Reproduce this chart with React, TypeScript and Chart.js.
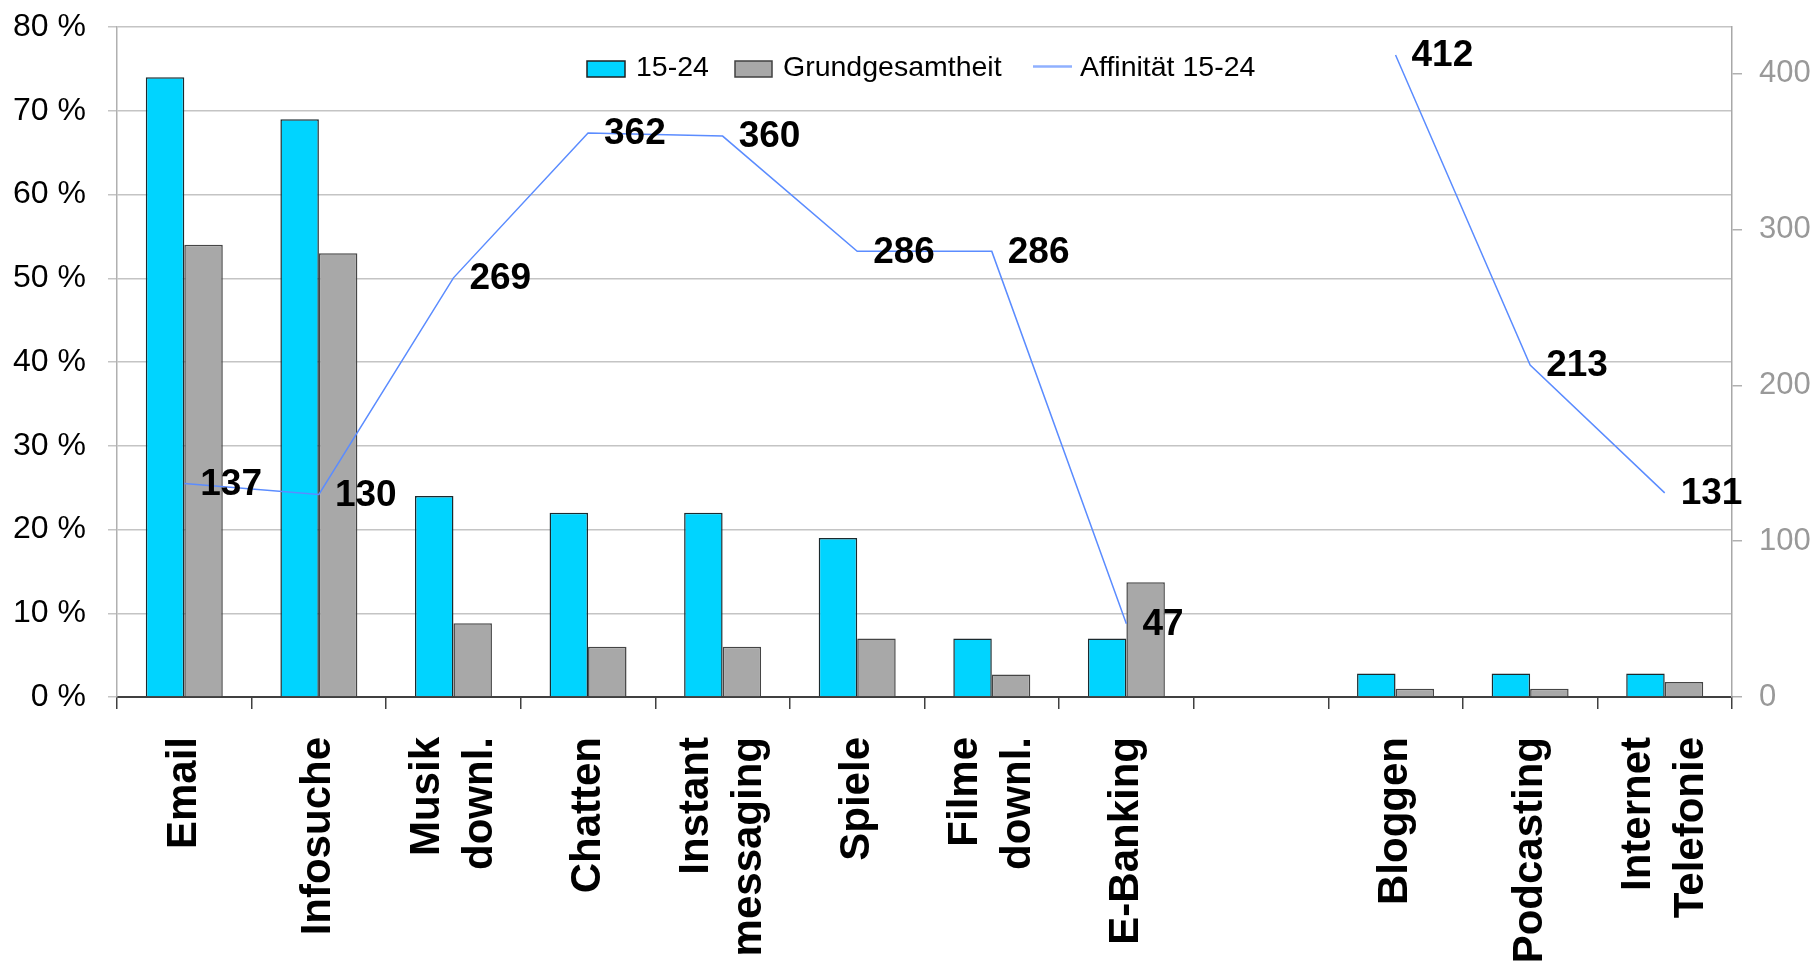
import React, { useEffect, useRef } from 'react';
import { Chart, registerables } from 'chart.js';

Chart.register(...registerables);

// ---- data ----
const categories: string[][] = [
  ['Email'],
  ['Infosuche'],
  ['Musik', 'downl.'],
  ['Chatten'],
  ['Instant', 'messaging'],
  ['Spiele'],
  ['Filme', 'downl.'],
  ['E-Banking'],
  [''],
  ['Bloggen'],
  ['Podcasting'],
  ['Internet', 'Telefonie'],
];
const youth: (number | null)[] = [74, 69, 24, 22, 22, 19, 7, 7, null, 2.8, 2.8, 2.8];
const total: (number | null)[] = [54, 53, 8.8, 6, 6, 7, 2.7, 13.7, null, 1, 1, 1.8];
const affinity: (number | null)[] = [137, 130, 269, 362, 360, 286, 286, 47, null, 412, 213, 131];
const seriesNames = ['15-24', 'Grundgesamtheit', 'Affinität 15-24'];
const leftAxis = { min: 0, max: 80, step: 10 };
const rightAxis = { min: 0, max: 430, step: 100 };

const CYAN = '#00d4ff';
const GREY = '#a8a8a8';
const LINE = '#5b8cff';

const xLabelPlugin = {
  id: 'xLabels',
  afterDraw(chart: any) {
    const ctx = chart.ctx;
    const xs = chart.scales.x;
    const top = chart.chartArea.bottom + 40;
    const lh = 53;
    ctx.save();
    ctx.fillStyle = '#000';
    ctx.font = 'bold 42px "Liberation Sans", Arial, sans-serif';
    ctx.textAlign = 'right';
    ctx.textBaseline = 'middle';
    categories.forEach((lines, i) => {
      const x = xs.getPixelForValue(i);
      ctx.save();
      ctx.translate(x, top);
      ctx.rotate(-Math.PI / 2);
      lines.forEach((ln, j) => {
        ctx.fillText(ln, 0, (j - (lines.length - 1) / 2) * lh);
      });
      ctx.restore();
    });
    ctx.restore();
  },
};

const valueLabelPlugin = {
  id: 'valueLabels',
  afterDatasetsDraw(chart: any) {
    const ctx = chart.ctx;
    const meta = chart.getDatasetMeta(2);
    ctx.save();
    ctx.fillStyle = '#000';
    ctx.font = 'bold 37px "Liberation Sans", Arial, sans-serif';
    ctx.textAlign = 'left';
    ctx.textBaseline = 'middle';
    meta.data.forEach((pt: any, i: number) => {
      const v = affinity[i];
      if (v === null || v === undefined) return;
      ctx.fillText(String(v), pt.x + 16, pt.y + 1);
    });
    ctx.restore();
  },
};

const legendPlugin = {
  id: 'customLegend',
  afterDraw(chart: any) {
    const ctx = chart.ctx;
    const cy = 68;
    ctx.save();
    ctx.font = '28.5px "Liberation Sans", Arial, sans-serif';
    ctx.textAlign = 'left';
    ctx.textBaseline = 'middle';
    ctx.fillStyle = CYAN;
    ctx.fillRect(587, 61, 38, 16);
    ctx.strokeStyle = '#202020';
    ctx.lineWidth = 1.5;
    ctx.strokeRect(587, 61, 38, 16);
    ctx.fillStyle = '#000';
    ctx.fillText(seriesNames[0], 636, cy);
    ctx.fillStyle = GREY;
    ctx.fillRect(735, 61, 37, 16);
    ctx.strokeStyle = '#404040';
    ctx.strokeRect(735, 61, 37, 16);
    ctx.fillStyle = '#000';
    ctx.fillText(seriesNames[1], 783, cy);
    ctx.strokeStyle = '#8fb0ff';
    ctx.lineWidth = 2.5;
    ctx.beginPath();
    ctx.moveTo(1033, 66.5);
    ctx.lineTo(1072, 66.5);
    ctx.stroke();
    ctx.fillStyle = '#000';
    ctx.fillText(seriesNames[2], 1080, cy);
    ctx.restore();
  },
};

export default function App() {
  const ref = useRef<HTMLCanvasElement>(null);
  useEffect(() => {
    if (!ref.current) return;
    const chart = new Chart(ref.current, {
      type: 'bar',
      data: {
        labels: categories.map((c) => c.join(' ')),
        datasets: [
          {
            type: 'bar',
            label: seriesNames[0],
            data: youth,
            backgroundColor: CYAN,
            borderColor: '#1c2a2e',
            borderWidth: 1.5,
            yAxisID: 'y',
            order: 1,
            categoryPercentage: 0.572,
            barPercentage: 1,
          } as any,
          {
            type: 'bar',
            label: seriesNames[1],
            data: total,
            backgroundColor: GREY,
            borderColor: '#454545',
            borderWidth: 1.5,
            yAxisID: 'y',
            order: 1,
            categoryPercentage: 0.572,
            barPercentage: 1,
          } as any,
          {
            type: 'line',
            label: seriesNames[2],
            data: affinity,
            borderColor: LINE,
            borderWidth: 1.5,
            pointRadius: 0,
            tension: 0,
            spanGaps: false,
            yAxisID: 'y1',
            order: 0,
          } as any,
        ],
      },
      options: {
        responsive: false,
        animation: false,
        devicePixelRatio: 1,
        layout: { padding: { top: 27, left: 0, right: 0, bottom: 0 } },
        plugins: {
          legend: { display: false },
          tooltip: { enabled: false },
        },
        scales: {
          x: {
            offset: true,
            afterFit: (s: any) => { s.height = 269; s.paddingLeft = 0; s.paddingRight = 0; },
            grid: {
              offset: true,
              drawOnChartArea: false,
              drawTicks: true,
              tickLength: 12,
              color: '#404040',
              lineWidth: 1.5,
            },
            border: { display: true, color: '#404040', width: 2 },
            ticks: { display: false },
          },
          y: {
            position: 'left',
            min: leftAxis.min,
            max: leftAxis.max,
            afterFit: (s: any) => { s.width = 117; s.paddingTop = 0; s.paddingBottom = 0; },
            ticks: {
              stepSize: leftAxis.step,
              padding: 22,
              color: '#000',
              font: { family: '"Liberation Sans", Arial, sans-serif', size: 32 },
              callback: (v: any) => `${v} %`,
            },
            grid: {
              color: '#c4c4c4',
              lineWidth: 1.5,
              tickLength: 9,
            },
            border: { display: true, color: '#b0b0b0', width: 1.5 },
          },
          y1: {
            position: 'right',
            min: rightAxis.min,
            max: rightAxis.max,
            afterFit: (s: any) => { s.width = 84; s.paddingTop = 0; s.paddingBottom = 0; },
            afterBuildTicks: (s: any) => {
              s.ticks = s.ticks.filter((t: any) => t.value % rightAxis.step === 0);
            },
            ticks: {
              stepSize: rightAxis.step,
              padding: 17,
              color: '#999999',
              font: { family: '"Liberation Sans", Arial, sans-serif', size: 31 },
            },
            grid: {
              drawOnChartArea: false,
              color: '#b0b0b0',
              lineWidth: 1.5,
              tickLength: 10,
            },
            border: { display: true, color: '#a8a8a8', width: 1.5 },
          },
        },
      } as any,
      plugins: [xLabelPlugin, valueLabelPlugin, legendPlugin],
    });
    return () => chart.destroy();
  }, []);

  return (
    <div style={{ position: 'fixed', left: 0, top: 0, width: 1816, height: 966, background: '#fff' }}>
      <canvas ref={ref} width={1816} height={966} style={{ display: 'block' }} />
    </div>
  );
}
